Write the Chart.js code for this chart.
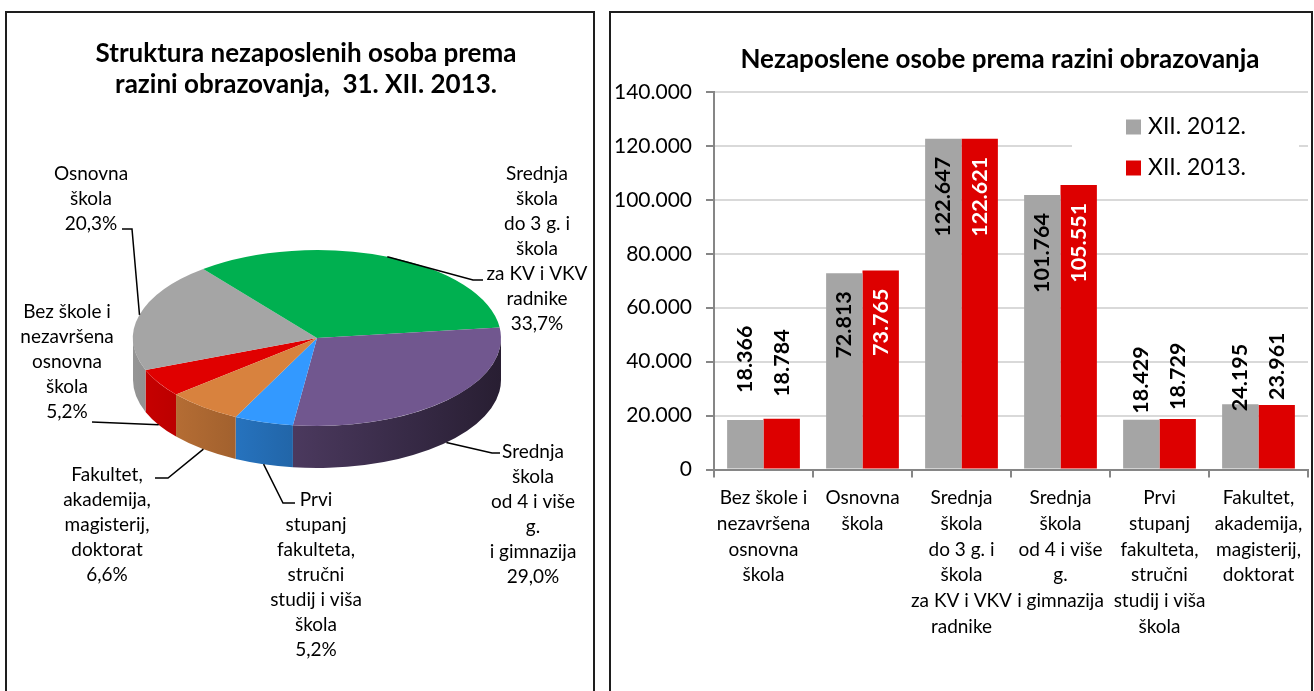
<!DOCTYPE html>
<html>
<head>
<meta charset="utf-8">
<title>Nezaposlene osobe prema razini obrazovanja</title>
<script src="https://cdn.jsdelivr.net/npm/chart.js@4.4.1/dist/chart.umd.min.js"></script>
<style>
  html, body { margin: 0; padding: 0; background: #fff; }
  body { width: 1314px; height: 691px; position: relative; overflow: hidden; }
  .panel { position: absolute; border: 2px solid #1e1e1e; box-sizing: border-box; }
  #leftPanel { left: 5px; top: 11px; width: 590px; height: 720px; }
  #rightPanel { left: 609px; top: 11px; width: 704px; height: 720px; }
  #pieChart { position: absolute; left: 0; top: 0; }
  #barChart { position: absolute; left: 610px; top: 0; }
</style>
</head>
<body>
<div class="panel" id="leftPanel"></div>
<div class="panel" id="rightPanel"></div>
<canvas id="pieChart" width="600" height="691"></canvas>
<canvas id="barChart" width="704" height="691"></canvas>
<script>
// Education levels (shared by both charts)
const categories = [
    ['Bez škole i', 'nezavršena', 'osnovna', 'škola'],
    ['Osnovna', 'škola'],
    ['Srednja', 'škola', 'do 3 g. i', 'škola', 'za KV i VKV', 'radnike'],
    ['Srednja', 'škola', 'od 4 i više', 'g.', 'i gimnazija'],
    ['Prvi', 'stupanj', 'fakulteta,', 'stručni', 'studij i viša', 'škola'],
    ['Fakultet,', 'akademija,', 'magisterij,', 'doktorat']
];

// Pie: share of unemployed, 31. XII. 2013. (%)
const pieShares = [5.2, 20.3, 33.7, 29.0, 5.2, 6.6];
const pieColors = ['#e00000', '#a5a5a5', '#00b050', '#71578f', '#3399ff', '#d8823e'];

// Bars: number of unemployed persons
const seriesNames = ['XII. 2012.', 'XII. 2013.'];
const series2012 = [18366, 72813, 122647, 101764, 18429, 24195];
const series2013 = [18784, 73765, 122621, 105551, 18729, 23961];
const barColors = ['#a5a5a5', '#dd0000'];
const yMax = 140000;
const yStep = 20000;

// label placement for the pie callouts (text block centre, first baseline, leader bends)
const pieCalloutLayout = [
    { x: 67,  y: 318, path: [[92, 422]] },
    { x: 91,  y: 180, path: [[132, 229], [122, 229]] },
    { x: 537, y: 180, path: [[473, 280], [483, 280]] },
    { x: 533, y: 458, path: [[492, 453], [500, 453]] },
    { x: 316, y: 506, path: [[283, 503], [295, 503]] },
    { x: 107, y: 481, path: [[168, 478], [155, 478]] }
];
// extra lift of the value labels that sit above short bars
const outsideGap = [[27, 22], [8, 8], [8, 8], [8, 8], [6, 9], [-7, 5]];

Chart.defaults.font.family = 'Lato, "Open Sans", sans-serif';
Chart.defaults.color = '#000';

const fmtThousands = v => String(v).replace(/\B(?=(\d{3})+(?!\d))/g, '.');
const fmtPercent = v => v.toFixed(1).replace('.', ',') + '%';

function shade(hex, f) {
    const n = parseInt(hex.slice(1), 16);
    const r = Math.round(((n >> 16) & 255) * f);
    const g = Math.round(((n >> 8) & 255) * f);
    const b = Math.round((n & 255) * f);
    return `rgb(${r}, ${g}, ${b})`;
}

// Title drawn straight on the canvas, one or more centred lines
const panelTitle = {
    id: 'panelTitle',
    afterDraw(chart, args, opts) {
        const ctx = chart.ctx;
        ctx.save();
        ctx.font = `bold ${opts.size}px Lato, sans-serif`;
        ctx.fillStyle = '#000';
        ctx.textAlign = 'center';
        ctx.textBaseline = 'alphabetic';
        opts.lines.forEach((line, i) => ctx.fillText(line, opts.x, opts.y + i * opts.lineHeight));
        ctx.restore();
    }
};

// Squash the pie into an ellipse and give it a front wall
const pie3d = {
    id: 'pie3d',
    beforeDatasetsDraw(chart, args, opts) {
        const ctx = chart.ctx;
        const arcs = chart.getDatasetMeta(0).data;
        const cx = arcs[0].x, cy = arcs[0].y, r = arcs[0].outerRadius;
        const ry = r * opts.tilt;
        const colors = chart.data.datasets[0].backgroundColor;

        arcs.forEach((arc, i) => {
            // only the part of each slice that faces the viewer (canvas angles 0..PI)
            [-2 * Math.PI, 0, 2 * Math.PI].forEach(k => {
                const a = Math.max(arc.startAngle, k);
                const b = Math.min(arc.endAngle, k + Math.PI);
                if (b <= a) return;
                const grad = ctx.createLinearGradient(cx - r, 0, cx + r, 0);
                for (let t = 0; t <= 1.0001; t += 0.25) {
                    grad.addColorStop(t, shade(colors[i], 0.9 - 0.55 * t));
                }
                ctx.beginPath();
                ctx.ellipse(cx, cy, r, ry, 0, a - k, b - k);
                ctx.ellipse(cx, cy + opts.depth, r, ry, 0, b - k, a - k, true);
                ctx.closePath();
                ctx.fillStyle = grad;
                ctx.fill();
            });
        });

        ctx.save();
        ctx.translate(0, cy);
        ctx.scale(1, opts.tilt);
        ctx.translate(0, -cy);
    },
    afterDatasetsDraw(chart) {
        chart.ctx.restore();
    }
};

// Category name + percentage beside each slice, with a leader line
const pieCallouts = {
    id: 'pieCallouts',
    afterDraw(chart, args, opts) {
        const ctx = chart.ctx;
        const arcs = chart.getDatasetMeta(0).data;
        const tilt = chart.options.plugins.pie3d.tilt;
        const depth = chart.options.plugins.pie3d.depth;
        ctx.save();
        arcs.forEach((arc, i) => {
            const layout = opts.layout[i];
            const mid = (arc.startAngle + arc.endAngle) / 2;
            const sx = arc.x + arc.outerRadius * Math.cos(mid);
            let sy = arc.y + arc.outerRadius * tilt * Math.sin(mid);
            if (Math.sin(mid) > 0) sy += depth;

            ctx.beginPath();
            ctx.moveTo(sx, sy);
            layout.path.forEach(p => ctx.lineTo(p[0], p[1]));
            ctx.strokeStyle = '#000';
            ctx.lineWidth = 1.5;
            ctx.stroke();

            const lines = chart.data.labels[i].concat(fmtPercent(chart.data.datasets[0].data[i]));
            ctx.font = `${opts.size}px Lato, sans-serif`;
            ctx.fillStyle = '#000';
            ctx.textAlign = 'center';
            ctx.textBaseline = 'alphabetic';
            lines.forEach((line, j) => ctx.fillText(line, layout.x, layout.y + j * opts.lineHeight));
        });
        ctx.restore();
    }
};

// Rotated value labels on the bars
const barValueLabels = {
    id: 'barValueLabels',
    afterDatasetsDraw(chart, args, opts) {
        const ctx = chart.ctx;
        ctx.save();
        ctx.font = `bold ${opts.size}px Lato, sans-serif`;
        chart.data.datasets.forEach((ds, d) => {
            chart.getDatasetMeta(d).data.forEach((bar, i) => {
                const text = fmtThousands(ds.data[i]);
                const w = ctx.measureText(text).width;
                const inside = bar.base - bar.y > w + opts.insideGap + 10;
                ctx.save();
                ctx.translate(bar.x, inside ? bar.y + opts.insideGap : bar.y - opts.outsideGap[i][d]);
                ctx.rotate(-Math.PI / 2);
                ctx.textAlign = inside ? 'right' : 'left';
                ctx.textBaseline = 'middle';
                ctx.fillStyle = inside ? opts.insideColors[d] : '#000';
                ctx.fillText(text, 0, 0);
                ctx.restore();
            });
        });
        ctx.restore();
    }
};

// Legend in a white box inside the plot: box hides the gridlines, bars stay on top
const boxLegend = {
    id: 'boxLegend',
    beforeDatasetsDraw(chart, args, o) {
        const ctx = chart.ctx;
        ctx.save();
        ctx.fillStyle = '#fff';
        ctx.fillRect(o.left, o.top, o.width, o.height);
        ctx.restore();
    },
    afterDraw(chart, args, o) {
        const ctx = chart.ctx;
        ctx.save();
        ctx.font = `${o.size}px Lato, sans-serif`;
        ctx.textBaseline = 'middle';
        ctx.textAlign = 'left';
        chart.data.datasets.forEach((ds, i) => {
            const y = o.firstRow + i * o.rowGap;
            ctx.fillStyle = ds.backgroundColor;
            ctx.fillRect(o.boxX, y - o.box / 2, o.box, o.box);
            ctx.fillStyle = '#000';
            ctx.fillText(ds.label, o.textX, y);
        });
        ctx.restore();
    }
};

new Chart(document.getElementById('pieChart'), {
    type: 'pie',
    data: {
        labels: categories,
        datasets: [{
            data: pieShares,
            backgroundColor: pieColors,
            borderWidth: 0,
            hoverOffset: 0,
            clip: false
        }]
    },
    options: {
        responsive: false,
        animation: false,
        rotation: -130,
        layout: { padding: { left: 133, right: 99, top: 154, bottom: 169 } },
        plugins: {
            legend: { display: false },
            tooltip: { enabled: false },
            panelTitle: {
                lines: ['Struktura nezaposlenih osoba prema', 'razini obrazovanja,  31. XII. 2013.'],
                x: 306, y: 62, lineHeight: 31, size: 26
            },
            pie3d: { tilt: 0.478, depth: 42 },
            pieCallouts: { layout: pieCalloutLayout, size: 19, lineHeight: 25 }
        }
    },
    plugins: [panelTitle, pie3d, pieCallouts]
});

new Chart(document.getElementById('barChart'), {
    type: 'bar',
    data: {
        labels: categories,
        datasets: [
            { label: seriesNames[0], data: series2012, backgroundColor: barColors[0] },
            { label: seriesNames[1], data: series2013, backgroundColor: barColors[1] }
        ]
    },
    options: {
        responsive: false,
        animation: false,
        layout: { padding: { top: 92, right: 6, left: 0, bottom: 0 } },
        datasets: { bar: { categoryPercentage: 0.735, barPercentage: 1 } },
        scales: {
            x: {
                grid: { offset: true, drawOnChartArea: false, color: '#868686', lineWidth: 2, tickLength: 8 },
                border: { color: '#868686', width: 2 },
                ticks: {
                    color: '#000',
                    font: { size: 19, lineHeight: 1.35 },
                    maxRotation: 0,
                    minRotation: 0,
                    autoSkip: false,
                    padding: 8
                },
                afterFit: s => { s.height = 221.5; }
            },
            y: {
                min: 0,
                max: yMax,
                ticks: {
                    stepSize: yStep,
                    callback: v => fmtThousands(v),
                    color: '#000',
                    font: { size: 21 },
                    padding: 14
                },
                grid: { color: '#d9d9d9', lineWidth: 2, tickColor: '#868686', tickLength: 8 },
                border: { color: '#868686', width: 2 },
                afterFit: s => { s.width = 104; }
            }
        },
        plugins: {
            legend: { display: false },
            tooltip: { enabled: false },
            panelTitle: {
                lines: ['Nezaposlene osobe prema razini obrazovanja'],
                x: 390, y: 68, lineHeight: 0, size: 26
            },
            barValueLabels: { size: 21.5, insideGap: 18, outsideGap: outsideGap, insideColors: ['#000', '#fff'] },
            boxLegend: {
                left: 462, top: 100, width: 227, height: 90,
                boxX: 516, box: 15, firstRow: 127, rowGap: 41, textX: 538, size: 23
            }
        }
    },
    plugins: [panelTitle, barValueLabels, boxLegend]
});
</script>
</body>
</html>
